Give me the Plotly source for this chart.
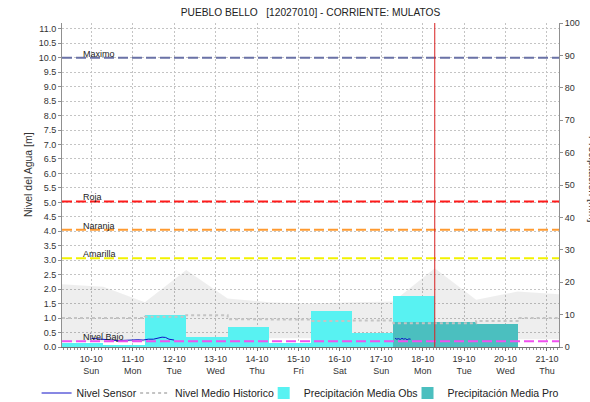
import plotly.graph_objects as go
import pandas as pd

# ---------------- data ----------------
chart_title = "PUEBLO BELLO   [12027010] - CORRIENTE: MULATOS"

tick_dates = ["2021-10-10", "2021-10-11", "2021-10-12", "2021-10-13", "2021-10-14", "2021-10-15",
              "2021-10-16", "2021-10-17", "2021-10-18", "2021-10-19", "2021-10-20", "2021-10-21"]
tick_days = ["10-10", "11-10", "12-10", "13-10", "14-10", "15-10",
             "16-10", "17-10", "18-10", "19-10", "20-10", "21-10"]
tick_weekdays = ["Sun", "Mon", "Tue", "Wed", "Thu", "Fri", "Sat", "Sun", "Mon", "Tue", "Wed", "Thu"]

x_start = "2021-10-09 07:00"
x_end = "2021-10-21 07:00"
now_time = "2021-10-18 07:00"

# observed daily precipitation (mm), each bar covers 07:00 -> 07:00 next day
obs_start = ["2021-10-09 07:00", "2021-10-10 07:00", "2021-10-11 07:00", "2021-10-12 07:00",
             "2021-10-13 07:00", "2021-10-14 07:00", "2021-10-15 07:00", "2021-10-16 07:00",
             "2021-10-17 07:00"]
obs_mm = [1.2, 0.4, 10.0, 3.0, 6.3, 1.3, 11.0, 4.2, 15.8]

# forecast daily precipitation (mm)
pro_start = ["2021-10-17 07:00", "2021-10-18 07:00", "2021-10-19 07:00"]
pro_mm = [7.7, 7.8, 7.0]

# historic range and mean level (m)
hist_time = ["2021-10-09 07:00", "2021-10-10 07:00", "2021-10-11 07:00", "2021-10-12 07:00",
             "2021-10-13 07:00", "2021-10-14 07:00", "2021-10-15 07:00", "2021-10-16 07:00",
             "2021-10-17 07:00", "2021-10-18 07:00", "2021-10-19 07:00", "2021-10-20 07:00",
             "2021-10-21 07:00"]
hist_low = [0.18, 0.18, 0.17, 0.20, 0.25, 0.30, 0.30, 0.30, 0.28, 0.27, 0.27, 0.27, 0.27]
hist_high = [2.17, 2.08, 1.55, 2.66, 1.68, 1.55, 1.50, 1.55, 1.57, 2.72, 1.63, 1.92, 1.82]
hist_mean = [1.00, 1.00, 1.05, 1.10, 0.96, 0.95, 0.90, 0.92, 0.82, 0.82, 0.90, 1.00, 1.05]

# sensor level (m)
sensor_time = ["2021-10-10 00:00", "2021-10-10 03:00", "2021-10-10 06:00", "2021-10-10 09:00",
               "2021-10-10 12:00", "2021-10-10 15:00", "2021-10-10 18:00", "2021-10-10 21:00",
               "2021-10-11 00:00", "2021-10-11 03:00", "2021-10-11 06:00", "2021-10-11 09:00",
               "2021-10-11 12:00", "2021-10-11 15:00", "2021-10-11 17:00", "2021-10-11 19:00",
               "2021-10-11 21:00", "2021-10-12 00:00", "2021-10-12 01:00",
               "2021-10-17 08:00", "2021-10-17 09:00", "2021-10-17 10:00", "2021-10-17 11:00",
               "2021-10-17 12:00", "2021-10-17 13:00", "2021-10-17 14:00", "2021-10-17 15:00",
               "2021-10-17 16:00", "2021-10-17 17:00"]
sensor_level = [0.30, 0.29, 0.27, 0.26, 0.24, 0.22, 0.23, 0.22,
                0.23, 0.25, 0.24, 0.27, 0.27, 0.30, 0.34, 0.33,
                0.27, 0.24, None,
                0.30, 0.27, 0.29, 0.26, 0.30, 0.27, 0.29, 0.25, 0.28, 0.27]

threshold_names = ["Maximo", "Roja", "Naranja", "Amarilla", "Nivel Bajo"]
threshold_values = [10.0, 5.03, 4.05, 3.07, 0.20]
threshold_colors = ["#6A72A6", "#FF1A1A", "#FF9A30", "#F2F200", "#F050F0"]

level_range = [0, 11.2]
precip_range = [0, 100]

# ---------------- figure ----------------
FONT = "Liberation Sans, Arial, sans-serif"
day_ms = 24 * 3600 * 1000

obs_center = pd.to_datetime(obs_start) + pd.Timedelta(hours=12)
pro_center = pd.to_datetime(pro_start) + pd.Timedelta(hours=12)

fig = go.Figure()

# historic band (bottom layer, axis y)
fig.add_trace(go.Scatter(x=hist_time, y=hist_low, mode="lines", line=dict(width=0),
                         hoverinfo="skip", showlegend=False, yaxis="y"))
fig.add_trace(go.Scatter(x=hist_time, y=hist_high, mode="lines", line=dict(width=0),
                         fill="tonexty", fillcolor="rgba(0,0,0,0.065)",
                         hoverinfo="skip", showlegend=False, yaxis="y"))

# precipitation bars (axis y2, right)
fig.add_trace(go.Bar(x=obs_center, y=obs_mm, width=[day_ms] * len(obs_mm),
                     marker=dict(color="#58F2F2", line=dict(width=0)),
                     name="Precipitación Media Obs", yaxis="y2", legend="legend3"))
fig.add_trace(go.Bar(x=pro_center, y=pro_mm, width=[day_ms] * len(pro_mm),
                     marker=dict(color="#4BBFBF", line=dict(width=0)),
                     name="Precipitación Media Pro", yaxis="y2", legend="legend4"))

# level lines (axis y3, overlay of left axis, drawn on top)
fig.add_trace(go.Scatter(x=hist_time, y=hist_mean, mode="lines", line_shape="hv",
                         line=dict(color="#C4C4C4", width=2, dash="3px,3px"),
                         name="Nivel Medio Historico", yaxis="y3", legend="legend2"))
fig.add_trace(go.Scatter(x=sensor_time, y=sensor_level, mode="lines",
                         line=dict(color="#1010C8", width=1),
                         connectgaps=False,
                         name="Nivel Sensor", yaxis="y3", legend="legend"))

# threshold lines and labels
for name, val, col in zip(threshold_names, threshold_values, threshold_colors):
    fig.add_shape(type="line", xref="paper", x0=0, x1=1, yref="y", y0=val, y1=val,
                  line=dict(color=col, width=2, dash="10px,4px"), layer="above")
    fig.add_annotation(text=name, xref="paper", x=0.038, xanchor="left",
                       yref="y", y=val, yanchor="bottom", yshift=-3, showarrow=False,
                       font=dict(family=FONT, size=9, color="#222222"))

# current time marker
fig.add_shape(type="line", xref="x", x0=now_time, x1=now_time, yref="paper", y0=0, y1=1,
              line=dict(color="#D82020", width=1), layer="above")

# axis titles
fig.add_annotation(text="Nivel del Agua [m]", xref="paper", x=-0.0684, yref="paper", y=0.531,
                   textangle=-90, showarrow=False, xanchor="center", yanchor="middle",
                   font=dict(family=FONT, size=10.5, color="#333333"))
fig.add_annotation(text="Precipitación [mm]", xref="paper", x=1.0684, yref="paper", y=0.5185,
                   textangle=90, showarrow=False, xanchor="center", yanchor="middle",
                   font=dict(family=FONT, size=10.5, color="#333333"))

ticktext = [d + "<br>" + w for d, w in zip(tick_days, tick_weekdays)]


def legend_box(xpos):
    return dict(orientation="h", x=xpos, xanchor="left", y=-0.142, yanchor="middle",
                font=dict(family=FONT, size=10.5, color="#222222"), itemwidth=30,
                bgcolor="rgba(0,0,0,0)", borderwidth=0)


fig.update_layout(
    width=590, height=402,
    margin=dict(l=62, r=31, t=23, b=55, autoexpand=False),
    paper_bgcolor="white", plot_bgcolor="white",
    font=dict(family=FONT, size=9, color="#333333"),
    title=dict(text=chart_title, x=0.5, xref="paper", y=1 - 12 / 402, yref="container",
               xanchor="center", yanchor="middle",
               font=dict(family=FONT, size=10.2, color="#222222")),
    barmode="overlay", bargap=0,
    showlegend=True,
    legend=legend_box(-0.0511),
    legend2=legend_box(0.1471),
    legend3=legend_box(0.4058),
    legend4=legend_box(0.6952),
    xaxis=dict(type="date", range=[x_start, x_end], tickmode="array",
               tickvals=tick_dates, ticktext=ticktext, showgrid=True,
               gridcolor="#C4C4C4", griddash="2px,2px", gridwidth=1,
               showline=True, linecolor="#707070", linewidth=1,
               ticks="outside", ticklen=3, tickcolor="#707070",
               minor=dict(ticks="outside", ticklen=2, tickcolor="#909090",
                          dtick=2 * 3600 * 1000, tick0="2021-10-10", showgrid=False),
               tickfont=dict(family=FONT, size=9, color="#333333"),
               zeroline=False, automargin=False, fixedrange=True),
    yaxis=dict(range=level_range, dtick=0.5, tick0=0, tickformat=".1f",
               showgrid=True, gridcolor="#C4C4C4", griddash="2px,2px", gridwidth=1,
               showline=True, linecolor="#909090", linewidth=1,
               ticks="outside", ticklen=3, tickcolor="#909090",
               tickfont=dict(family=FONT, size=9, color="#333333"),
               zeroline=False, automargin=False, side="left", fixedrange=True),
    yaxis2=dict(range=precip_range, dtick=10, tick0=0, overlaying="y", side="right",
                showgrid=False, showline=True, linecolor="#909090", linewidth=1,
                ticks="outside", ticklen=3, tickcolor="#909090",
                tickfont=dict(family=FONT, size=9, color="#333333"),
                zeroline=False, automargin=False, fixedrange=True),
    yaxis3=dict(range=level_range, overlaying="y", side="left", visible=False,
                showgrid=False, zeroline=False, fixedrange=True),
)

fig.write_html("out.html", config={"displayModeBar": False},
               post_script="document.body.style.margin='0';document.body.style.overflow='hidden';")
